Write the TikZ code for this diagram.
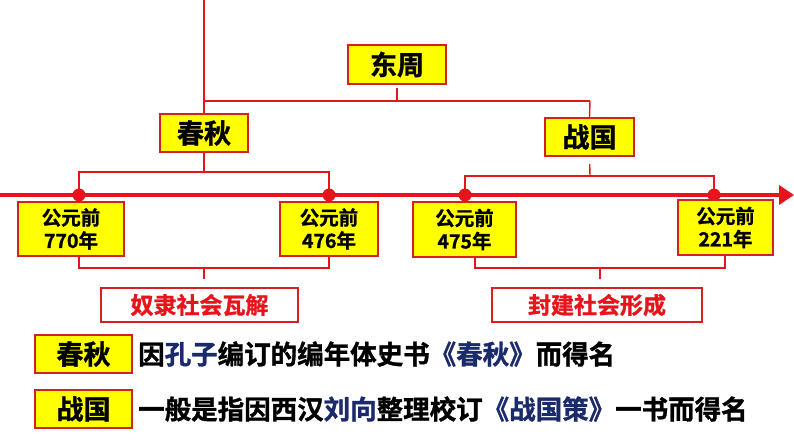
\documentclass[tikz,border=0pt]{standalone}
\usepackage{fontspec}
\setmainfont{Noto Sans CJK SC}[BoldFont={Noto Sans CJK SC Bold}, BoldFeatures={FakeBold=1.2}]
\usetikzlibrary{arrows.meta}
\definecolor{lnred}{HTML}{E8141B}
\definecolor{bxred}{HTML}{D42020}
\definecolor{bxyel}{HTML}{FFFF00}
\definecolor{navy}{HTML}{1B2A6B}
\begin{document}
\begin{tikzpicture}[x=1pt,y=-1pt,
  conn/.style={draw=lnred, line width=1.4pt},
  ybox/.style={draw=bxred, line width=1.6pt, fill=bxyel, inner sep=0pt, font=\bfseries},
  rbox/.style={draw=bxred, line width=1.4pt, fill=white, inner sep=0pt, text=lnred, font=\bfseries\fontsize{23}{26}\selectfont},
  dotmark/.style={circle, fill=lnred, inner sep=0pt, minimum size=13pt},
  big/.style={font=\bfseries\fontsize{27}{30}\selectfont},
  datef/.style={font=\bfseries\fontsize{19.5}{23}\selectfont, align=center},
  desc/.style={anchor=west, inner sep=0pt, font=\bfseries\fontsize{26.5}{30}\selectfont}
]
\useasboundingbox (0,0) rectangle (794,447);

% top boxes
\node[ybox, big, minimum width=98pt, minimum height=39pt] (dz) at (397,64.5) {东周};
\node[ybox, big, minimum width=88pt, minimum height=38pt] (cq) at (204,133) {春秋};
\node[ybox, big, minimum width=89pt, minimum height=38pt] (zg) at (589.5,137) {战国};

% timeline
\coordinate (tlstart) at (0,195);
\coordinate (tlend) at (794,195);
\draw[lnred, line width=4.5pt, -{Triangle[length=15pt,width=19pt]}] (tlstart) -- (tlend);

% dots
\node[dotmark] (p1) at (79,195) {};
\node[dotmark] (p2) at (329,195) {};
\node[dotmark] (p3) at (465,195) {};
\node[dotmark] (p4) at (714,195) {};

% upper connectors
\coordinate (top) at (204,0);
\coordinate (hj) at (204,101);
\coordinate (hjr) at (590,101);
\draw[conn] (top) -- (cq.north);
\draw[conn] (hj) -- (hjr);
\draw[conn, shorten <=3pt] (dz.south) -- (dz.south |- hj);
\draw[conn] (hjr) -- (zg.north);

\coordinate (cqj) at (204,172);
\draw[conn] (cq.south) -- (cqj);
\draw[conn] (p1.center) |- (cqj) -| (p2.center);

\coordinate (zgj) at (590,176);
\draw[conn, shorten <=7pt] (zg.south) -- (zgj);
\draw[conn] (p3.center) |- (zgj) -| (p4.center);

% date boxes
\node[ybox, datef, minimum width=106pt, minimum height=54pt] (d1) at (71,229) {公元前\\770年};
\node[ybox, datef, minimum width=98pt, minimum height=54pt] (d2) at (329,229) {公元前\\476年};
\node[ybox, datef, minimum width=103pt, minimum height=55pt] (d3) at (464.5,229.5) {公元前\\475年};
\node[ybox, datef, minimum width=95pt, minimum height=55pt] (d4) at (725.5,227.5) {公元前\\221年};

% result boxes
\node[rbox, minimum width=197pt, minimum height=34pt] (r1) at (199.5,305) {奴隶社会瓦解};
\node[rbox, minimum width=210pt, minimum height=34pt] (r2) at (597,305) {封建社会形成};

% lower brackets
\coordinate (l1) at (79,256);
\coordinate (l2) at (329,256);
\coordinate (lj1) at (204,268);
\draw[conn] (l1) |- (lj1) -| (l2);
\draw[conn, shorten >=8pt] (lj1) -- (r1.north -| lj1);

\coordinate (l3) at (475,257);
\coordinate (l4) at (725,255);
\coordinate (lj2) at (600,268);
\draw[conn] (l3) |- (lj2) -| (l4);
\draw[conn, shorten >=8pt] (lj2) -- (r2.north -| lj2);

% bottom explanations
\node[ybox, big, minimum width=97pt, minimum height=38pt] (b1) at (83.5,354) {春秋};
\node[ybox, big, minimum width=97pt, minimum height=38pt] (b2) at (83.5,409) {战国};
\node[desc] (t1) at (138,354) {因\textcolor{navy}{孔子}编订的编年体史书\textcolor{navy}{《春秋》}而得名};
\node[desc] (t2) at (138,409) {一般是指因西汉\textcolor{navy}{刘向}整理校订\textcolor{navy}{《战国策》}一书而得名};
\end{tikzpicture}
\end{document}
